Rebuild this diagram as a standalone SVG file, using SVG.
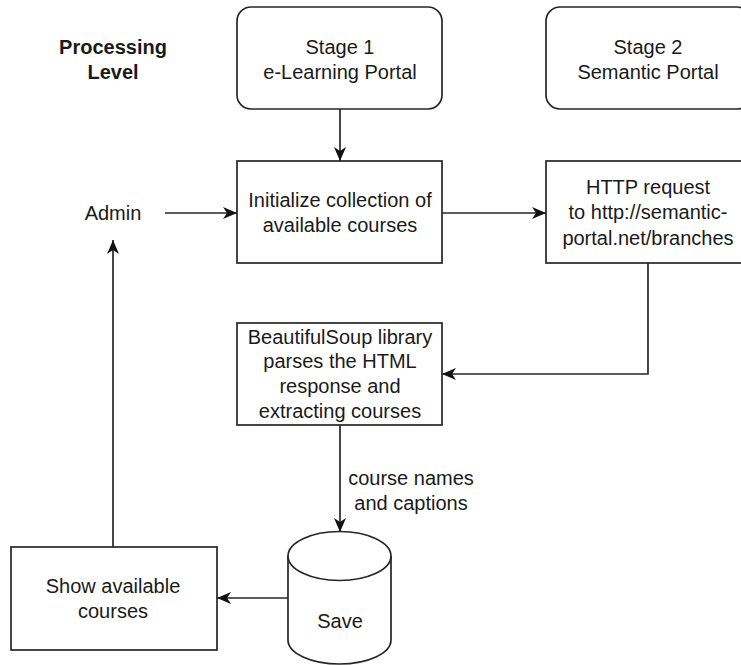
<svg xmlns="http://www.w3.org/2000/svg" width="741" height="665" viewBox="0 0 741 665">
  <style>
    .box { fill: #ffffff; stroke: #262626; stroke-width: 1.7; }
    .t { font-family: "Liberation Sans", Arial, sans-serif; font-size: 20px; fill: #1a1a1a; text-anchor: middle; }
    .b { font-weight: bold; }
    .edge { fill: none; stroke: #262626; stroke-width: 1.7; }
  </style>
  <defs>
    <marker id="arrow" markerUnits="userSpaceOnUse" markerWidth="16" markerHeight="14" refX="14" refY="6" orient="auto">
      <path d="M0,0 L14,6 L0,12 L4,6 Z" fill="#111111"/>
    </marker>
  </defs>

  <rect width="741" height="665" fill="#ffffff"/>

  <g id="processing-level">
    <text class="t b" x="113" y="54">Processing</text>
    <text class="t b" x="113" y="79">Level</text>
  </g>

  <g id="stage1">
    <rect class="box" x="237" y="7" width="205" height="102" rx="14"/>
    <text class="t" x="340" y="54">Stage 1</text>
    <text class="t" x="340" y="79">e-Learning Portal</text>
  </g>

  <g id="stage2">
    <rect class="box" x="546" y="7" width="205" height="102" rx="14"/>
    <text class="t" x="648" y="54">Stage 2</text>
    <text class="t" x="648" y="79">Semantic Portal</text>
  </g>

  <g id="admin">
    <text class="t" x="113" y="220">Admin</text>
  </g>

  <g id="init">
    <rect class="box" x="237" y="161" width="205" height="102"/>
    <text class="t" x="340" y="207">Initialize collection of</text>
    <text class="t" x="340" y="232">available courses</text>
  </g>

  <g id="http">
    <rect class="box" x="546" y="161" width="205" height="102"/>
    <text class="t" x="648" y="194">HTTP request</text>
    <text class="t" x="648" y="219">to http://semantic-</text>
    <text class="t" x="648" y="245">portal.net/branches</text>
  </g>

  <g id="parser">
    <rect class="box" x="237" y="323" width="205" height="102"/>
    <text class="t" x="340" y="344">BeautifulSoup library</text>
    <text class="t" x="340" y="368">parses the HTML</text>
    <text class="t" x="340" y="393">response and</text>
    <text class="t" x="340" y="418">extracting courses</text>
  </g>

  <g id="save">
    <path class="box" d="M288,556 A51.5,24.5 0 0 1 391,556 L391,640 A51.5,24 0 0 1 288,640 Z"/>
    <path class="edge" d="M288,556 A51.5,24.5 0 0 0 391,556"/>
    <text class="t" x="340" y="628">Save</text>
  </g>

  <g id="show">
    <rect class="box" x="11" y="547" width="206" height="103"/>
    <text class="t" x="113" y="593">Show available</text>
    <text class="t" x="113" y="618">courses</text>
  </g>

  <g id="connectors">
    <path class="edge" d="M340,109 L340,161" marker-end="url(#arrow)"/>
    <path class="edge" d="M165,213 L237,213" marker-end="url(#arrow)"/>
    <path class="edge" d="M442,213 L546,213" marker-end="url(#arrow)"/>
    <path class="edge" d="M648,263 L648,374 L442,374" marker-end="url(#arrow)"/>
    <path class="edge" d="M340,425 L340,532" marker-end="url(#arrow)"/>
    <path class="edge" d="M288,598 L217,598" marker-end="url(#arrow)"/>
    <path class="edge" d="M113,547 L113,240" marker-end="url(#arrow)"/>
    <text class="t" x="411" y="485">course names</text>
    <text class="t" x="411" y="510">and captions</text>
  </g>
</svg>
